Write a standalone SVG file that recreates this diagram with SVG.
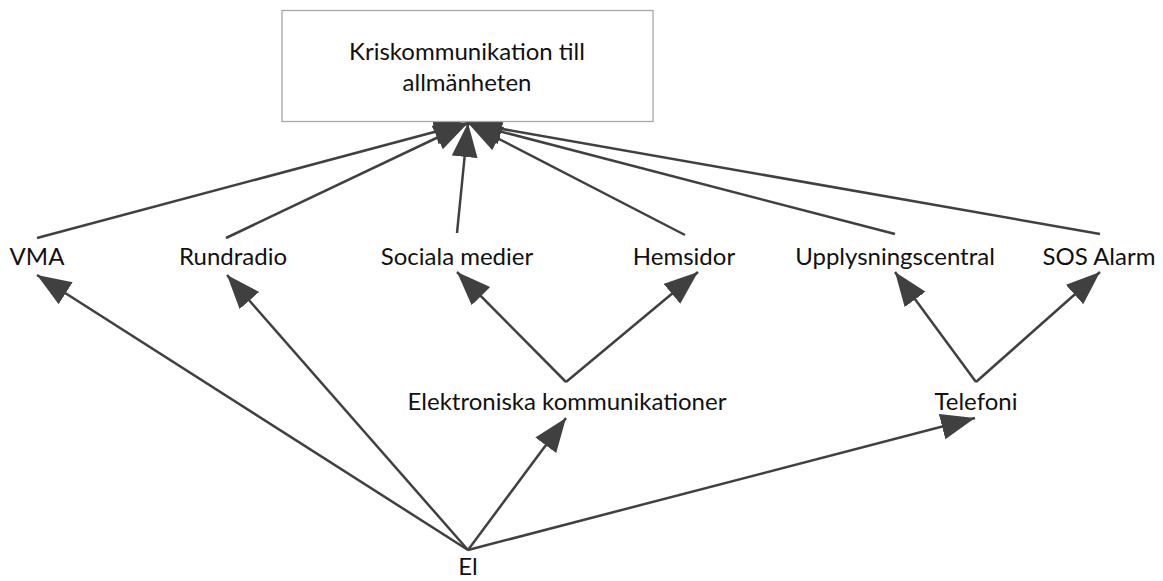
<svg xmlns="http://www.w3.org/2000/svg" width="1163" height="581" viewBox="0 0 1163 581">
  <style>
    .lbl { font-family: Lato, "Noto Sans", "Liberation Sans", sans-serif; font-size: 24px; fill: #111; text-anchor: middle; }
    .box { fill: #fff; stroke: #a6a6a6; stroke-width: 1.3; }
    .edge { stroke: #404040; stroke-width: 2.5; fill: none; marker-end: url(#head); }
  </style>
  <defs>
    <marker id="head" markerUnits="userSpaceOnUse" markerWidth="36" markerHeight="28" refX="34" refY="13" orient="auto">
      <path d="M0,0 L34,13 L0,26 Z" fill="#404040"/>
    </marker>
  </defs>
  <rect width="1163" height="581" fill="#fff"/>

  <g id="connectors">
    <line class="edge" x1="37" y1="238" x2="468" y2="123"/>
    <line class="edge" x1="226" y1="238" x2="468" y2="123"/>
    <line class="edge" x1="457" y1="233" x2="468" y2="123"/>
    <line class="edge" x1="685" y1="235" x2="468" y2="123"/>
    <line class="edge" x1="895" y1="234" x2="468" y2="123"/>
    <line class="edge" x1="1100" y1="234" x2="468" y2="123"/>
    <line class="edge" x1="566" y1="382" x2="457" y2="272"/>
    <line class="edge" x1="566" y1="382" x2="698" y2="272"/>
    <line class="edge" x1="976" y1="382" x2="895" y2="272"/>
    <line class="edge" x1="976" y1="382" x2="1100" y2="272"/>
    <line class="edge" x1="468" y1="550" x2="37" y2="275"/>
    <line class="edge" x1="468" y1="550" x2="227" y2="275"/>
    <line class="edge" x1="468" y1="550" x2="566" y2="418"/>
    <line class="edge" x1="468" y1="550" x2="975" y2="418"/>
  </g>

  <g id="kriskommunikation">
    <rect class="box" x="282" y="10.5" width="371" height="111"/>
    <text class="lbl" x="467" y="60">Kriskommunikation till</text>
    <text class="lbl" x="467" y="91">allmänheten</text>
  </g>
  <g id="vma"><text class="lbl" x="37" y="265">VMA</text></g>
  <g id="rundradio"><text class="lbl" x="233" y="265">Rundradio</text></g>
  <g id="sociala-medier"><text class="lbl" x="457" y="265">Sociala medier</text></g>
  <g id="hemsidor"><text class="lbl" x="684" y="265">Hemsidor</text></g>
  <g id="upplysningscentral"><text class="lbl" x="895" y="265">Upplysningscentral</text></g>
  <g id="sos-alarm"><text class="lbl" x="1099" y="265">SOS Alarm</text></g>
  <g id="elektroniska"><text class="lbl" x="567" y="410">Elektroniska kommunikationer</text></g>
  <g id="telefoni"><text class="lbl" x="976" y="410">Telefoni</text></g>
  <g id="el"><text class="lbl" x="468" y="575">El</text></g>
</svg>
